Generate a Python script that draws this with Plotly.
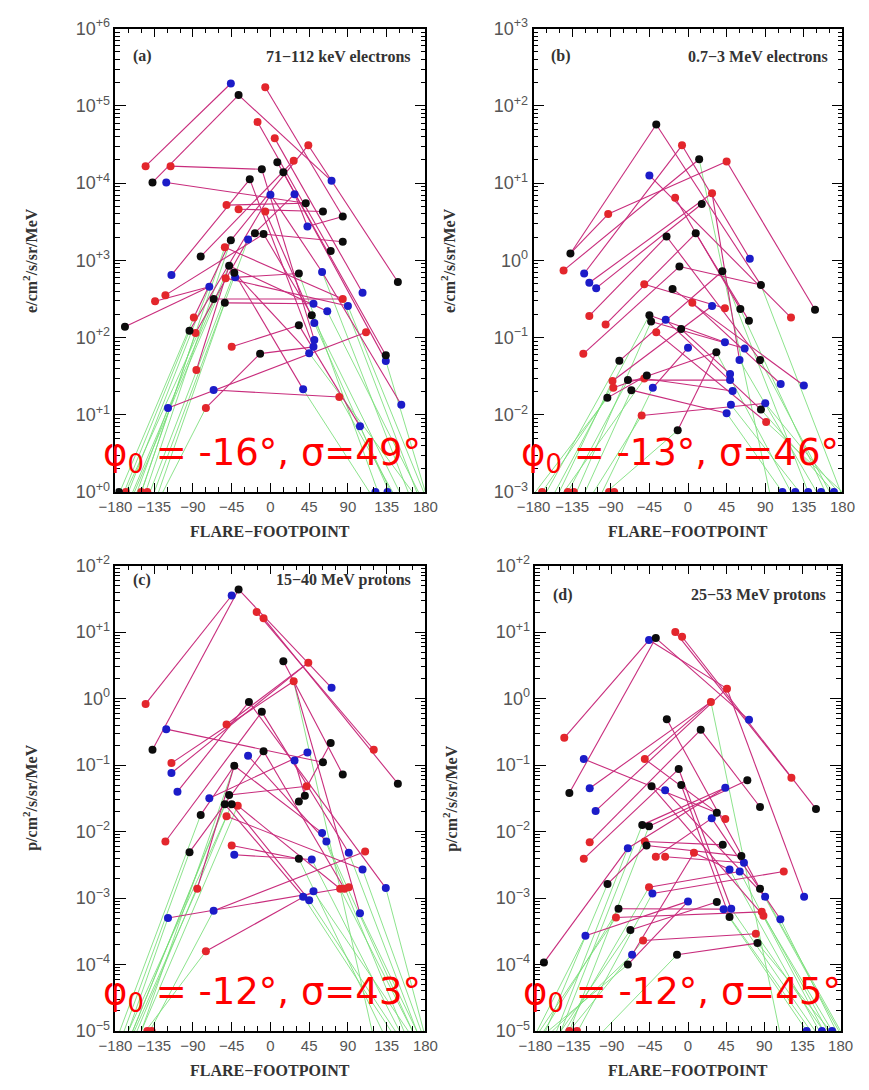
import plotly.graph_objects as go

W, H = 869, 1090

# ---------------- (a) 71-112 keV electrons ----------------
a_phi = [-46, -37, -6, -15, 5, 44, -145, -116, -137, -121,
         -10, 8, 27, 15, -24, 71, 0, 28, -51, -37,
         41, -6, 61, 84, 43, -18, -8, -26, -46, 84,
         -53, 70, -81, -48, -42, -41, -52, -115, 33, 60,
         148, -71, 107, -122, -134, -66, -53, 84, 90, 50,
         66, -89, 48, 51, -169, -94, -87, 33, 111, 51,
         50, 45, -45, -12, 134, 134, -86, -66, 38, 80,
         -119, -75, 152, 104]
a_flux = [1.95e5, 1.38e5, 1.74e5, 6.2e4, 3.8e4, 3.1e4, 1.66e4, 1.66e4, 1.02e4, 1.02e4,
          1.51e4, 1.86e4, 1.95e4, 1.38e4, 1.12e4, 1.07e4, 7.1e3, 7.2e3, 5.2e3, 4.6e3,
          5.5e3, 4.3e3, 4.3e3, 3.7e3, 2.75e3, 2.24e3, 2.19e3, 1.86e3, 1.82e3, 1.74e3,
          1.48e3, 1.32e3, 1.12e3, 851, 692, 603, 589, 646, 676, 708,
          525, 457, 380, 355, 295, 316, 282, 316, 257, 275,
          219, 182, 195, 155, 138, 123, 115, 145, 117, 93,
          76, 63, 76, 62, 59, 50, 38, 21, 21.4, 17,
          12.3, 12.3, 13.5, 7.1]
a_col = ("bkrrrrrrkb" "kkrkkbbbrr" "krkkbkkbkk" "rkkkkbrbkb" "kbbrrkkrbb"
         "brkbkkrkrb" "bbrkkbrbbr" "brbb")
a_links = [(7, 1), (9, 2), (2, 16), (8, 11), (10, 21), (3, 24), (4, 32), (5, 43), (6, 41),
           (12, 65), (14, 66), (38, 15), (33, 13), (19, 21), (20, 23), (29, 6), (28, 18),
           (44, 27), (45, 42), (55, 42), (31, 48), (46, 48), (36, 39), (34, 51), (35, 62),
           (47, 50), (63, 58), (71, 59), (72, 64), (68, 70), (58, 74), (35, 69), (26, 30),
           (52, 29), (67, 34), (56, 17), (57, 28), (27, 53), (22, 54), (37, 49), (40, 73),
           (25, 24), (11, 60), (15, 61), (17, 40), (18, 25), (64, 61)]
a_green = [(31, -150), (34, -160), (35, -140), (46, -168), (47, -130), (52, -175), (56, -170),
           (72, -125), (71, -155), (28, -135), (29, -145), (37, -158), (42, -165), (57, -150),
           (39, 125), (53, 150), (54, 138), (51, 172), (49, 178), (69, 115), (70, 142),
           (74, 140), (62, 165), (66, 180), (40, 160), (48, 170)]
a_floor_phi = [-176, -168, -150, -143, 122, 136]
a_floor_col = "krrrbb"

# ---------------- (b) 0.7-3 MeV electrons ----------------
b_phi = [-37, -7, 13, 45, -45, -93, -15, 28, 16, -25,
         9, -137, 72, -145, -121, -115, -107, -10, 40, -51,
         -18, 85, 5, 28, 43, 61, 71, 120, 148, -115,
         -96, -45, -43, -26, -37, -8, -122, 0, 43, 66,
         33, 60, 84, -80, -88, -87, -70, -51, -48, -41,
         -66, -94, 49, 49, 52, 108, 135, 50, 45, 85,
         90, 91, -54, -12]
b_flux = [57.5, 30.9, 20.4, 19.1, 12.6, 3.98, 6.46, 7.41, 5.37, 2.04,
          2.24, 1.23, 1.05, 0.741, 0.676, 0.513, 0.437, 0.832, 0.724, 0.49,
          0.427, 0.479, 0.282, 0.257, 0.24, 0.234, 0.166, 0.182, 0.229, 0.191,
          0.148, 0.195, 0.162, 0.17, 0.117, 0.129, 0.0617, 0.0741, 0.0871, 0.0724,
          0.0646, 0.0513, 0.0513, 0.0501, 0.0275, 0.0224, 0.0282, 0.0295, 0.0324, 0.0224,
          0.0209, 0.0166, 0.0339, 0.0282, 0.0204, 0.0251, 0.024, 0.0135, 0.0105, 0.0117,
          0.0141, 0.0081, 0.0098, 0.0063]
b_col = ("krkrbrrrkk" "kkbrbbbkkr" "kkrbrkkrkr" "rkkbrkrbbb" "kbkkrrkrkb"
         "kkbbbbbbbk" "brrk")
b_links = [(12, 6), (6, 4), (12, 1), (1, 22), (2, 13), (4, 29), (5, 28), (14, 3), (15, 2),
           (16, 8), (17, 9), (30, 10), (31, 11), (37, 18), (7, 26), (10, 43), (11, 27),
           (8, 42), (20, 25), (21, 57), (23, 56), (34, 60), (35, 62), (36, 53), (44, 19),
           (45, 24), (46, 41), (47, 54), (48, 55), (51, 59), (63, 61), (52, 49), (64, 41),
           (32, 39), (33, 40), (50, 38), (18, 22)]
b_green = [(44, -165), (45, -150), (46, -170), (47, -140), (52, -178), (51, -120), (63, -110),
           (64, -95), (32, -155), (33, -130), (49, -145), (50, -100),
           (3, 95), (41, 120), (42, 150), (43, 165), (58, 130), (59, 110), (60, 170),
           (61, 175), (62, 180), (19, 140), (26, 160), (22, 178)]
b_floor_phi = [-170, -140, -133, -92, -86, 110, 125, 140, 155, 170]
b_floor_col = "rrrrrbbbbb"

# ---------------- (c) 15-40 MeV protons ----------------
c_phi = [-37, -45, -16, -8, 15, 44, 27, 71, -145, -25,
         -10, -51, -121, -137, 70, 120, 148, -115, -115, -108,
         -26, -8, 28, 43, 61, 84, -42, 42, 40, 33,
         -71, -48, -53, -45, -38, -51, -81, 60, 65, -122,
         -94, -45, -42, 91, 110, 33, 48, 107, 134, -85,
         81, 86, 91, 38, 45, 50, -66, -119, 104, -75]
c_flux = [43.7, 35.5, 20.0, 16.2, 3.63, 3.47, 1.82, 1.45, 0.832, 0.891,
          0.631, 0.407, 0.347, 0.17, 0.214, 0.17, 0.0525, 0.107, 0.0759, 0.0398,
          0.138, 0.162, 0.117, 0.155, 0.11, 0.0724, 0.0977, 0.0479, 0.0347, 0.0282,
          0.0316, 0.0355, 0.0257, 0.0257, 0.0245, 0.017, 0.0178, 0.00955, 0.00708, 0.00708,
          0.0049, 0.00617, 0.00447, 0.00479, 0.00501, 0.00389, 0.0038, 0.00269, 0.00141, 0.00138,
          0.00138, 0.00138, 0.00145, 0.00105, 0.00093, 0.00126, 0.000646, 0.000501, 0.000589,
          0.000158]
c_col = ("kbrrkrrbrk" "krbkkrkrbb" "bkbbkkkrkk" "bkkkrrkbbr" "krbbrkbbbr"
         "rrrbbbbbbr")
c_links = [(9, 2), (14, 1), (1, 8), (3, 16), (4, 17), (5, 26), (12, 6), (18, 7), (19, 6),
           (13, 25), (10, 49), (11, 44), (20, 10), (22, 52), (37, 27), (31, 24), (40, 11),
           (41, 22), (42, 46), (43, 47), (57, 45), (58, 53), (60, 56), (35, 51), (34, 55),
           (33, 54), (32, 28), (36, 48), (21, 39), (27, 38), (50, 27), (7, 59), (23, 29),
           (30, 15)]
c_green = [(33, -160), (34, -155), (35, -150), (36, -165), (37, -175), (41, -170), (50, -158),
           (57, -140), (58, -165), (60, -145), (27, -150), (32, -160),
           (7, 118), (46, 130), (47, 150), (54, 140), (55, 145), (56, 160), (44, 170),
           (48, 175), (49, 178), (51, 165), (59, 170), (38, 155), (39, 165)]
c_floor_phi = [-143, -138]
c_floor_col = "rr"

# ---------------- (d) 25-53 MeV protons ----------------
d_phi = [-46, -38, -15, -7, 46, 27, 72, -25, 15, -146,
         -123, -51, -140, -116, -109, -11, -43, -27, -8, 44,
         70, 85, 151, 122, 34, 28, 44, -54, -46, -116,
         -123, -51, -49, -71, 41, -38, -27, 7, 63, 66,
         49, 61, 113, -95, -46, -42, 85, 91, 137, 0,
         34, 42, 51, 49, 87, 89, 109, -82, -85, -68,
         -121, -53, 80, 82, -66, -13, -71, -170]
d_flux = [7.59, 8.13, 10.0, 8.51, 1.41, 0.891, 0.479, 0.49, 0.339, 0.257,
          0.123, 0.123, 0.038, 0.0447, 0.0204, 0.0871, 0.0479, 0.0417, 0.0501, 0.0457,
          0.0589, 0.0234, 0.0219, 0.0646, 0.0191, 0.0158, 0.0155, 0.0126, 0.012, 0.00692,
          0.00389, 0.00708, 0.00617, 0.00562, 0.00631, 0.00417, 0.00417, 0.00479, 0.00427,
          0.00339, 0.00269, 0.00251, 0.00251, 0.00162, 0.00145, 0.00117, 0.00138, 0.00105,
          0.00105, 0.00089, 0.00087, 0.00068, 0.00069, 0.00052, 0.00062, 0.00054, 0.00048,
          0.00069, 0.00051, 0.00033, 0.00027, 0.00023, 0.00029, 0.00021, 0.00014, 0.00014,
          0.0001, 0.000107]
d_col = ("bkrrrrbkkr" "brkbbkkbkb" "kkkrkbrkkr" "rrkbkrrrkb" "bbrkrbkbbb"
         "kbbkrrbkrk" "brrkbkkk")
d_links = [(10, 1), (13, 2), (2, 7), (3, 24), (4, 23), (12, 27), (14, 6), (15, 5), (11, 25),
           (8, 47), (9, 22), (16, 53), (17, 56), (18, 48), (19, 54), (28, 20), (29, 21),
           (30, 9), (31, 16), (32, 35), (33, 39), (36, 26), (37, 40), (38, 41), (45, 42),
           (46, 43), (44, 33), (59, 55), (58, 52), (60, 51), (62, 63), (65, 38), (61, 50),
           (68, 34), (67, 50), (34, 20), (1, 5), (6, 12), (66, 64), (5, 49), (26, 57)]
d_green = [(60, -150), (65, -160), (67, -165), (62, -140), (58, -170), (59, -175), (61, -178),
           (44, -168), (34, -155), (45, -145), (46, -130), (66, -100), (28, -150), (29, -140),
           (6, 108), (52, 140), (53, 150), (54, 145), (55, 165), (56, 170), (57, 175),
           (63, 160), (64, 168), (47, 178), (48, 180), (41, 155), (42, 160)]
d_floor_phi = [-140, -131, 140, 158, 170]
d_floor_col = "rrbbb"

x_ticks = [-180, -135, -90, -45, 0, 45, 90, 135, 180]

COLORS = {"r": "#e3262c", "b": "#1c1cc8", "k": "#0c0c0c"}
LINK_COLOR = "#c82c7c"
FIT_COLOR = "rgba(120,222,120,0.85)"


def dec_label(e, plus_zero=False):
    if e > 0 or (e == 0 and plus_zero):
        s = "+%d" % e
    elif e == 0:
        s = "0"
    else:
        s = "\u2212%d" % (-e)
    return "10<sup>%s</sup>" % s


panels = [
    dict(phi=a_phi, flux=a_flux, col=a_col, links=a_links, green=a_green,
         fphi=a_floor_phi, fcol=a_floor_col, exps=(0, 6), plus_zero=True,
         px=(102, 423), py=(17, 490), tag="(a)", title="71\u2212112 keV electrons",
         unit="e/cm<sup>2</sup>/s/sr/MeV", fit_label="\u03c6<sub>0</sub> = -16\u00b0, \u03c3=49\u00b0"),
    dict(phi=b_phi, flux=b_flux, col=b_col, links=b_links, green=b_green,
         fphi=b_floor_phi, fcol=b_floor_col, exps=(-3, 3), plus_zero=False,
         px=(535, 855), py=(17, 490), tag="(b)", title="0.7\u22123 MeV electrons",
         unit="e/cm<sup>2</sup>/s/sr/MeV", fit_label="\u03c6<sub>0</sub> = -13\u00b0, \u03c3=46\u00b0"),
    dict(phi=c_phi, flux=c_flux, col=c_col, links=c_links, green=c_green,
         fphi=c_floor_phi, fcol=c_floor_col, exps=(-5, 2), plus_zero=False,
         px=(102, 423), py=(565, 1040), tag="(c)", title="15\u221240 MeV protons",
         unit="p/cm<sup>2</sup>/s/sr/MeV", fit_label="\u03c6<sub>0</sub> = -12\u00b0, \u03c3=43\u00b0"),
    dict(phi=d_phi, flux=d_flux, col=d_col, links=d_links, green=d_green,
         fphi=d_floor_phi, fcol=d_floor_col, exps=(-5, 2), plus_zero=False,
         px=(537, 853), py=(565, 1040), tag="(d)", title="25\u221253 MeV protons",
         unit="p/cm<sup>2</sup>/s/sr/MeV", fit_label="\u03c6<sub>0</sub> = -12\u00b0, \u03c3=45\u00b0"),
]

fig = go.Figure()
layout = dict(width=W, height=H, margin=dict(l=0, r=0, t=0, b=0),
              paper_bgcolor="white", plot_bgcolor="white", showlegend=False)
annotations = []


def fx(x):
    return x / W


def fy(y):
    return 1 - y / H


LABEL_FONT = dict(family="Liberation Serif", size=16, color="#333333")

for i, p in enumerate(panels, start=1):
    xa = "x" if i == 1 else "x%d" % i
    ya = "y" if i == 1 else "y%d" % i
    lo, hi = p["exps"]
    floor = 10.0 ** lo

    # green fit lines running from a measurement down to the bottom of the axis
    gx, gy = [], []
    for idx, end_phi in p["green"]:
        gx += [p["phi"][idx - 1], end_phi, None]
        gy += [p["flux"][idx - 1], floor, None]
    fig.add_trace(go.Scatter(x=gx, y=gy, mode="lines", xaxis=xa, yaxis=ya,
                             line=dict(color=FIT_COLOR, width=1), hoverinfo="skip"))

    # magenta lines joining the spacecraft of one event
    lx, ly = [], []
    for s, e in p["links"]:
        lx += [p["phi"][s - 1], p["phi"][e - 1], None]
        ly += [p["flux"][s - 1], p["flux"][e - 1], None]
    fig.add_trace(go.Scatter(x=lx, y=ly, mode="lines", xaxis=xa, yaxis=ya,
                             line=dict(color=LINK_COLOR, width=1.1), hoverinfo="skip"))

    # observations, one trace per spacecraft colour
    for c in "rbk":
        xs = [ph for ph, cc in zip(p["phi"], p["col"]) if cc == c]
        ys = [fl for fl, cc in zip(p["flux"], p["col"]) if cc == c]
        xs += [ph for ph, cc in zip(p["fphi"], p["fcol"]) if cc == c]
        ys += [floor for cc in p["fcol"] if cc == c]
        fig.add_trace(go.Scatter(x=xs, y=ys, mode="markers", xaxis=xa, yaxis=ya,
                                 marker=dict(color=COLORS[c], size=8, line=dict(width=0))))

    x0, x1 = p["px"]
    y0, y1 = p["py"]
    axis_common = dict(showline=True, linecolor="black", linewidth=1.6, mirror="allticks",
                       ticks="inside", tickcolor="black", showgrid=False, zeroline=False)
    layout["xaxis" if i == 1 else "xaxis%d" % i] = dict(
        axis_common, domain=[fx(x0), fx(x1)], anchor=ya, range=[-180, 180],
        tickvals=x_ticks, ticktext=[("\u2212%d" % -v) if v < 0 else str(v) for v in x_ticks],
        ticklen=9, tickwidth=1.2, tickangle=0,
        minor=dict(ticks="inside", dtick=15, ticklen=5, tickcolor="black", tickwidth=1),
        tickfont=dict(family="Liberation Sans", size=15, color="#555555"))
    exps = list(range(lo, hi + 1))
    layout["yaxis" if i == 1 else "yaxis%d" % i] = dict(
        axis_common, domain=[fy(y1), fy(y0)], anchor=xa, type="log", range=[lo, hi],
        tickvals=[10.0 ** e for e in exps],
        ticktext=[dec_label(e, p["plus_zero"]) for e in exps],
        ticklen=11, tickwidth=1.2,
        minor=dict(ticks="inside", dtick="D1", ticklen=5, tickcolor="black", tickwidth=1),
        tickfont=dict(family="Liberation Sans", size=18, color="#555555"))

    # panel tag and energy channel
    tag_y = 45 if i <= 2 else (580 if i == 3 else 595)
    annotations.append(dict(x=fx(x0 + 16), y=fy(tag_y), xref="paper", yref="paper",
                            text="<b>%s</b>" % p["tag"], showarrow=False, xanchor="left",
                            yanchor="middle", font=LABEL_FONT))
    annotations.append(dict(x=fx(x1 - 13), y=fy(tag_y), xref="paper", yref="paper",
                            text="<b>%s</b>" % p["title"], showarrow=False, xanchor="right",
                            yanchor="middle", font=LABEL_FONT))
    # axis titles
    annotations.append(dict(x=fx((x0 + x1) / 2), y=fy(y1 + 40), xref="paper", yref="paper",
                            text="<b>FLARE\u2212FOOTPOINT</b>", showarrow=False,
                            xanchor="center", yanchor="middle", font=LABEL_FONT))
    annotations.append(dict(x=fx(x0 - 88), y=fy((y0 + y1) / 2), xref="paper", yref="paper",
                            text="<b>%s</b>" % p["unit"], showarrow=False, textangle=-90,
                            xanchor="center", yanchor="middle", font=LABEL_FONT))
    # fitted Gaussian parameters
    annotations.append(dict(x=fx(x0 - 15), y=fy(y1 - 38), xref="paper", yref="paper",
                            text=p["fit_label"], showarrow=False, xanchor="left",
                            yanchor="middle",
                            font=dict(family="DejaVu Sans", size=37, color="#ff0000")))

layout["annotations"] = annotations
fig.update_layout(**layout)
fig.write_html("out.html")
